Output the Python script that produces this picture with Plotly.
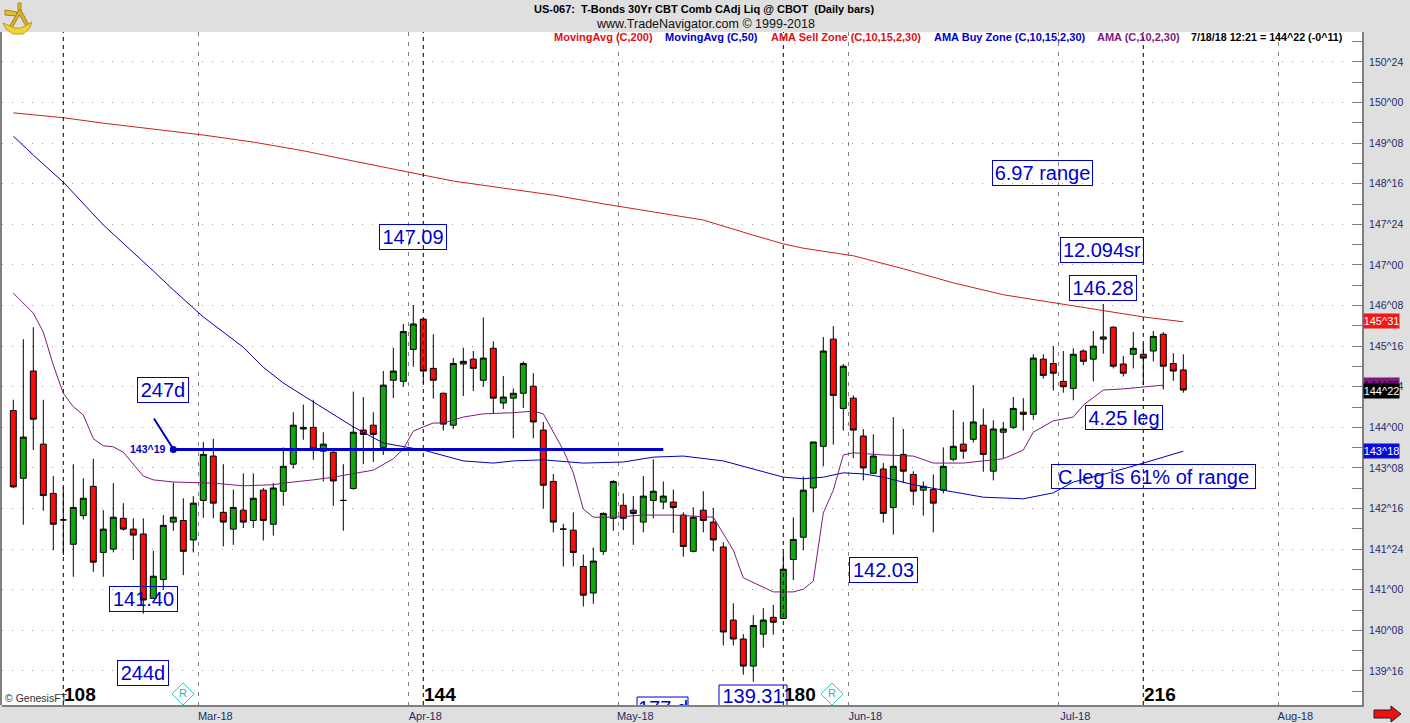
import plotly.graph_objects as go

W, H = 1410, 723
ML, MR, MT, MB = 2, 48, 32, 18

bar_index = list(range(118))
open_ = [144.31,143.06,145.04,143.69,142.78,142.29,141.84,142.37,142.91,141.69,
 141.75,142.32,142.12,142.03,140.84,141.19,142.25,142.28,141.92,142.65,
 143.47,142.43,142.12,142.47,142.28,142.84,142.21,142.82,143.32,144.00,
 144.00,143.56,143.54,142.65,142.87,143.95,144.04,143.63,144.87,144.85,
 145.44,146.00,145.09,144.63,144.04,145.17,145.26,144.87,145.46,144.45,
 144.54,144.63,144.76,143.95,143.00,142.12,142.10,141.43,140.94,141.71,
 142.32,142.56,142.47,142.25,142.65,142.62,142.62,142.38,141.71,142.47,
 142.25,141.79,140.44,140.09,139.59,140.18,140.49,140.47,141.56,141.97,
 142.88,143.65,145.63,144.35,144.54,143.84,143.15,143.23,142.52,143.50,
 143.13,142.84,142.85,142.84,143.41,143.69,143.78,144.04,143.19,143.91,
 144.00,144.28,144.24,145.26,145.18,144.85,144.72,145.41,145.26,145.63,
 145.85,145.17,145.35,145.35,145.41,145.72,145.18,145.06]
close = [142.90,143.82,144.15,142.74,142.21,142.29,142.52,142.69,141.51,142.12,
 142.34,142.12,142.01,140.81,141.25,142.19,142.34,141.71,142.60,143.50,
 142.60,142.25,142.52,142.25,142.69,142.28,142.88,143.28,144.04,143.97,
 143.60,143.69,143.01,142.65,143.91,143.87,143.87,144.78,145.04,145.77,
 145.91,145.04,144.87,144.06,145.18,145.22,145.09,145.28,144.54,144.56,
 144.63,145.18,144.10,142.93,142.25,142.12,141.69,140.90,141.53,142.41,
 143.00,142.32,142.41,142.73,142.82,142.73,142.52,141.80,142.34,142.28,
 141.92,140.22,140.09,139.59,140.34,140.44,140.40,141.38,141.93,142.84,
 143.73,145.41,144.59,145.13,143.95,143.25,143.47,142.41,143.28,143.19,
 142.82,142.91,142.60,143.28,143.65,143.56,144.10,143.50,143.97,143.97,
 144.35,144.24,145.28,144.96,145.00,144.75,145.35,145.22,145.50,145.67,
 145.13,145.00,145.46,145.28,145.68,145.13,145.04,144.69]
high = [144.51,145.63,145.85,144.51,143.10,142.90,143.32,143.06,143.42,142.47,
 142.97,142.60,142.32,142.32,141.72,142.38,142.98,142.69,142.73,143.73,
 143.79,143.32,142.85,143.15,143.15,142.88,142.97,143.63,144.28,144.42,
 144.51,143.91,143.56,143.32,144.66,144.56,144.28,145.04,145.47,145.91,
 146.26,146.00,145.72,144.64,145.28,145.47,145.41,146.03,145.59,144.95,
 144.72,145.22,145.00,144.10,143.14,142.22,142.43,141.65,141.78,142.43,
 143.03,142.78,142.73,143.10,143.41,143.00,142.85,142.43,142.52,142.82,
 142.51,141.88,140.75,140.18,140.53,140.66,140.72,141.69,142.34,143.09,
 143.73,145.67,145.87,145.17,144.59,143.97,143.87,143.34,144.19,143.97,
 143.19,143.00,143.13,143.63,144.32,144.10,144.78,144.35,144.13,144.10,
 144.56,144.54,145.35,145.35,145.50,145.41,145.46,145.44,145.78,146.28,
 145.87,145.32,145.76,145.55,145.78,145.76,145.37,145.35]
low = [142.88,142.20,143.58,142.46,141.73,141.64,141.24,142.30,141.33,141.24,
 141.69,142.09,141.55,140.56,140.84,141.00,142.09,141.27,141.69,142.33,
 142.32,141.80,141.83,142.14,142.14,141.91,142.00,142.55,143.24,143.77,
 143.40,143.00,142.55,142.09,142.85,143.32,143.36,143.49,144.54,144.75,
 145.12,144.81,144.53,143.94,143.97,144.58,144.67,144.75,144.25,144.34,
 143.80,144.36,143.80,142.50,142.06,141.43,141.43,140.69,140.74,141.64,
 142.09,142.10,141.83,142.06,142.32,142.49,142.05,141.61,141.69,142.06,
 141.71,139.97,139.97,139.43,139.30,139.93,140.17,140.47,141.18,141.73,
 142.43,143.28,143.68,143.94,143.43,143.02,143.14,142.24,142.02,142.97,
 142.56,142.37,142.06,142.78,143.37,143.42,143.72,143.18,143.02,143.43,
 143.97,143.94,144.14,144.90,144.68,144.64,144.50,145.15,144.85,145.36,
 145.09,144.94,145.09,144.78,145.22,144.70,144.86,144.64]

ma200_x = [0,5,9,14,19,24,29,34,39,41,44,49,54,59,64,69,74,77,79,84,89,94,99,104,109,113,117]
ma200_y = [149.81,149.72,149.62,149.51,149.40,149.27,149.11,148.92,148.74,148.66,148.55,148.42,148.29,
 148.13,147.98,147.83,147.55,147.39,147.31,147.17,146.93,146.67,146.45,146.30,146.15,146.04,145.95]

ma50_x = [0,2,5,9,14,16,19,23,25,27,30,34,37,39,41,45,48,50,53,57,61,64,67,71,74,77,79,81,83,85,87,90,93,97,101,104,106,110,113,117]
ma50_y = [149.38,149.03,148.53,147.74,146.89,146.54,146.04,145.48,145.11,144.82,144.47,144.01,143.71,143.64,143.58,
 143.38,143.34,143.38,143.40,143.34,143.36,143.45,143.47,143.38,143.23,143.08,143.05,143.08,143.16,143.14,143.08,
 142.94,142.84,142.71,142.68,142.79,142.99,143.18,143.34,143.56]

ama_x = [0,2,3,4,5,6,7,8,9,10,11,13,14,16,20,23,26,27,30,32,36,38,39,40,41,42,43,45,47,50,52,53,55,56,57,58,60,63,66,70,
 72,73,76,78,79,80,81,82,83,84,87,90,92,95,97,99,101,102,104,106,107,109,111,113,115]
ama_y = [146.48,146.11,145.76,145.15,144.63,144.38,144.23,143.79,143.66,143.64,143.54,143.10,143.03,142.99,142.97,
 142.92,142.94,142.97,143.03,143.08,143.21,143.42,143.60,143.93,144.01,144.08,144.08,144.19,144.25,144.27,144.30,
 144.25,143.58,143.16,142.49,142.34,142.34,142.38,142.38,142.34,141.73,141.22,140.96,140.96,141.01,141.16,142.42,
 142.84,143.49,143.53,143.49,143.47,143.34,143.34,143.38,143.42,143.58,143.91,144.12,144.19,144.41,144.69,144.71,144.75,144.78]

trend_x = [16, 65]
trend_y = [143.59, 143.59]
trend_label = "143^19"

y_ticks = [150.75,150.0,149.25,148.5,147.75,147.0,146.25,145.5,144.75,144.0,143.25,142.5,141.75,141.0,140.25,139.5]
y_labels = ["150^24","150^00","149^08","148^16","147^24","147^00","146^08","145^16","144^24","144^00","143^08","142^16","141^24","141^00","140^08","139^16"]
month_pos = [18.5,39.5,60.5,83.5,104.5,126.5]
month_labels = ["Mar-18","Apr-18","May-18","Jun-18","Jul-18","Aug-18"]
cycle_pos = [5,41,77,113]
cycle_labels = ["108","144","180","216"]

BLUE = "#0000CC"
FONT = "Liberation Sans"


def X(px):
    return (px - 13.3) / 10


def Y(py):
    return 151.895 - 0.018474 * py


def PX(px):
    return (px - ML) / (W - ML - MR)


def PY(py):
    return (H - MB - py) / (H - MT - MB)


fig = go.Figure()
fig.add_trace(go.Candlestick(
    x=bar_index, open=open_, high=high, low=low, close=close,
    increasing=dict(line=dict(color="#000000", width=1), fillcolor="#0FA80F"),
    decreasing=dict(line=dict(color="#000000", width=1), fillcolor="#F80C0C"),
    whiskerwidth=0, showlegend=False, hoverinfo="skip",
))
for xs, ys, col in [(ma200_x, ma200_y, "#CC1E1E"), (ma50_x, ma50_y, "#0000B4"), (ama_x, ama_y, "#7D1A7D")]:
    fig.add_trace(go.Scatter(x=xs, y=ys, mode="lines", line=dict(color=col, width=1), showlegend=False, hoverinfo="skip"))
fig.add_trace(go.Scatter(x=trend_x, y=trend_y, mode="lines", line=dict(color=BLUE, width=3), showlegend=False, hoverinfo="skip"))
fig.add_trace(go.Scatter(x=trend_x[:1], y=trend_y[:1], mode="markers", marker=dict(color=BLUE, size=7), showlegend=False, hoverinfo="skip"))

# "R" diamonds
fig.add_trace(go.Scatter(
    x=[X(183), X(832)], y=[Y(694), Y(694)], mode="markers+text", text=["R", "R"],
    textposition="middle center", textfont=dict(family=FONT, size=11, color="#20B8B8"),
    marker=dict(symbol="diamond-open", size=17, color="#30C8C8", line=dict(width=1)),
    showlegend=False, hoverinfo="skip",
))
# boxed labels that run off the bottom of the panel are clipped by the axes
for txt, cx, cy in [("177 d", 663, 710), ("139.31", 753, 698)]:
    fig.add_trace(go.Scatter(
        x=[X(cx)], y=[Y(cy)], mode="text", text=[txt], cliponaxis=True,
        textposition="middle center", textfont=dict(family=FONT, size=20, color=BLUE),
        showlegend=False, hoverinfo="skip",
    ))

shapes = []
for c in cycle_pos:
    shapes.append(dict(type="line", xref="x", yref="paper", x0=c, x1=c, y0=0, y1=1, layer="above",
                       line=dict(color="#000000", width=1, dash="4px,4px")))
shapes.append(dict(type="rect", xref="x", yref="y", x0=X(637), x1=X(688), y0=Y(697), y1=Y(730), layer="above",
                   line=dict(color=BLUE, width=1)))
shapes.append(dict(type="rect", xref="x", yref="y", x0=X(719), x1=X(787), y0=Y(685), y1=Y(730), layer="above",
                   line=dict(color=BLUE, width=1)))
# left panel edge
shapes.append(dict(type="line", xref="paper", yref="paper", x0=PX(1), x1=PX(1), y0=PY(32), y1=PY(705),
                   line=dict(color="#808080", width=2)))


def path(points):
    return "M " + " L ".join(f"{PX(a)},{PY(b)}" for a, b in points) + " Z"


def deco(points, fill, edge):
    shapes.append(dict(type="path", xref="paper", yref="paper", path=path(points), fillcolor=fill,
                       layer="above", line=dict(color=edge, width=1)))


# red arrow at the bottom right
deco([(1374, 710), (1391, 710), (1391, 706), (1401, 714), (1391, 722), (1391, 718), (1374, 718)], "#F01010", "#202020")
# sextant logo
deco([(5, 10), (17, 12), (17, 16), (5, 15)], "#E6BE30", "#A88418")
deco([(18, 3), (21, 3), (21, 10), (18, 10)], "#E6BE30", "#A88418")
deco([(19, 10), (9, 27), (12, 28), (19.5, 15), (27, 28), (30, 27), (21, 10)], "#D8B030", "#A88418")
deco([(3, 23), (8, 25), (14, 28), (21, 28), (27, 25), (32, 22), (29, 29), (23, 34), (13, 34), (6, 29)], "#F5D23C", "#C09A18")

ann = []


def text(t, px, py, size, color, bold=False, anchor="left", family=FONT):
    ann.append(dict(text=f"<b>{t}</b>" if bold else t, xref="paper", yref="paper", x=PX(px), y=PY(py),
                    xanchor=anchor, yanchor="middle", showarrow=False,
                    font=dict(family=family, size=size, color=color)))


def box(t, x0, x1, y0, y1, size=20):
    ann.append(dict(text=t, xref="paper", yref="paper", x=PX((x0 + x1) / 2), y=PY((y0 + y1) / 2),
                    xanchor="center", yanchor="middle", showarrow=False, width=x1 - x0 - 2, height=y1 - y0 - 2,
                    borderpad=0, borderwidth=1, bordercolor=BLUE, align="center", valign="middle",
                    font=dict(family=FONT, size=size, color=BLUE)))


def tag(t, y0, bg, fg="#FFFFFF"):
    ann.append(dict(text=t, xref="paper", yref="paper", x=PX(1381), y=PY(y0 + 7), xanchor="center", yanchor="middle",
                    showarrow=False, width=35, height=14, borderpad=0, bgcolor=bg, align="center", valign="middle",
                    font=dict(family=FONT, size=11, color=fg)))


text("US-067:  T-Bonds 30Yr CBT Comb CAdj Liq @ CBOT  (Daily bars)", 704, 9, 11, "#000000", True, "center")
text("www.TradeNavigator.com © 1999-2018", 705, 24, 12.5, "#101010", False, "center")
text("MovingAvg (C,200)", 552, 37, 11, "#E01010", True)
text("MovingAvg (C,50)", 663, 37, 11, "#0000CC", True)
text("AMA Sell Zone (C,10,15,2,30)", 769, 37, 11, "#E01010", True)
text("AMA Buy Zone (C,10,15,2,30)", 932, 37, 11, "#0000CC", True)
text("AMA (C,10,2,30)", 1095, 37, 11, "#7D1A7D", True)
text("7/18/18 12:21 = 144^22 (-0^11)", 1189, 37, 10.7, "#000000", True)

box("247d", 137, 189, 377, 403)
box("141.40", 109, 178, 586, 612)
box("244d", 117, 169, 660, 686)
box("147.09", 379, 447, 224, 250)
box("6.97 range", 992, 1093, 160, 186)
box("12.094sr", 1060, 1144, 237, 263)
box("146.28", 1069, 1137, 275, 301)
box("4.25 leg", 1085, 1163, 405, 430)
box("C leg is 61% of range", 1051, 1256, 464, 489)
box("142.03", 849, 918, 557, 583)

text(trend_label, 128, 449, 10.5, BLUE, True)
ann.append(dict(xref="x", yref="y", x=X(172), y=Y(447), ax=X(153), ay=Y(417), axref="x", ayref="y", text="",
                showarrow=True, arrowhead=0, arrowwidth=2, arrowcolor="#0000B0"))

text("© GenesisFT", 3, 698, 10.5, "#303030")
for c, lab in zip(cycle_pos, cycle_labels):
    ann.append(dict(text=f"<b>{lab}</b>", xref="x", yref="paper", x=c, y=PY(694), xanchor="left", yanchor="middle",
                    xshift=-1, showarrow=False, font=dict(family=FONT, size=19, color="#000000")))

tag("145^31", 314, "#F01818")
tag("143^18", 444, "#0A0AE0")
tag("144^25", 378, "#7D1A7D", "#300030")
tag("144^22", 384, "#000000")

fig.update_layout(
    width=W, height=H, autosize=False,
    margin=dict(l=ML, r=MR, t=MT, b=MB, pad=0),
    paper_bgcolor="#DFDFDF", plot_bgcolor="#FFFFFF",
    showlegend=False, shapes=shapes, annotations=ann,
    font=dict(family=FONT),
    boxgap=0.15, boxgroupgap=0.3,
    xaxis=dict(range=[X(2), X(1362)], rangeslider=dict(visible=False),
               tickmode="array", tickvals=month_pos, ticktext=month_labels, ticks="",
               showgrid=True, gridcolor="#808080", griddash="4px,6px", gridwidth=1,
               showline=True, linecolor="#808080", linewidth=2, zeroline=False,
               ticklabelposition="outside", ticklabelshift=17, ticklabelstandoff=0,
               tickfont=dict(family=FONT, size=11, color="#1E2A70"), tickangle=0),
    yaxis=dict(range=[Y(705), Y(32)], side="right", tickmode="array", tickvals=y_ticks, ticktext=y_labels,
               ticks="inside", ticklen=10, tickcolor="#808080", tickwidth=1,
               minor=dict(tickmode="array", tickvals=[v - 0.375 for v in y_ticks] + [151.125], ticks="inside", ticklen=10,
                          tickcolor="#808080", tickwidth=1, showgrid=False),
               showgrid=True, gridcolor="#A0A0A0", griddash="1px,9px", gridwidth=1,
               showline=True, linecolor="#808080", linewidth=2, zeroline=False,
               ticklabelstandoff=3,
               tickfont=dict(family=FONT, size=10.5, color="#1E2A70")),
)
fig.write_html("out.html", config=dict(displayModeBar=False),
               post_script="document.body.style.margin='0';document.documentElement.style.overflow='hidden';")
